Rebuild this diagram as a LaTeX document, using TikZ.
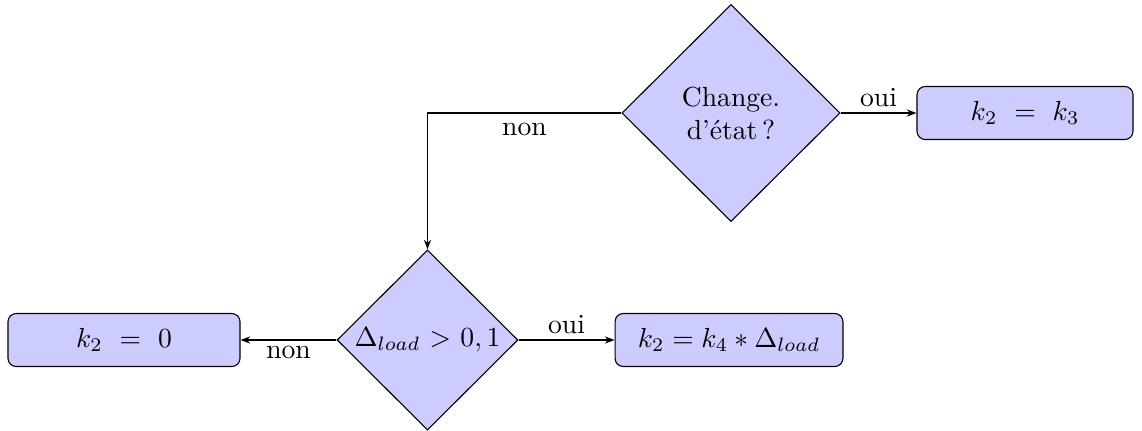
\documentclass[tikz,border=0pt]{standalone}
\usetikzlibrary{shapes.geometric,arrows.meta}
\begin{document}
\begin{tikzpicture}[x=0.362pt,y=-0.362pt,
  decision/.style={diamond,draw,fill=blue!20,inner sep=0pt,aspect=1,align=center},
  block/.style={rectangle,draw,fill=blue!20,rounded corners=3pt,minimum height=19.2pt,inner sep=0pt},
  line/.style={draw,-{Stealth[length=3.5pt,width=2.6pt]}},
  lbl/.style={inner sep=2pt}]
\useasboundingbox (0,0) rectangle (1142,430);
\node[decision,minimum width=79pt,minimum height=78.6pt] (d1) at (731,113) {Change.\\d'état\,?};
\node[block,minimum width=78.2pt] (b3) at (1025,113) {$k_2$ \;=\; $k_3$};
\node[decision,minimum width=65.5pt,minimum height=65.2pt] (d2) at (427.5,340) {$\Delta_{load}$ > $0,1$};
\node[block,minimum width=84pt] (b0) at (124,340) {$k_2$ \;=\; $0$};
\node[block,minimum width=82.5pt] (b4) at (729,340) {$k_2 = k_4 * \Delta_{load}$};
\draw[line] (d1.west) -| node[pos=0.25,below,inner sep=3.5pt] {non} (d2.north);
\draw[line] (d1.east) -- node[above,lbl] {oui} (b3.west);
\draw[line] (d2.east) -- node[above,lbl] {oui} (b4.west);
\draw[line] (d2.west) -- node[below,lbl] {non} (b0.east);
\end{tikzpicture}
\end{document}
